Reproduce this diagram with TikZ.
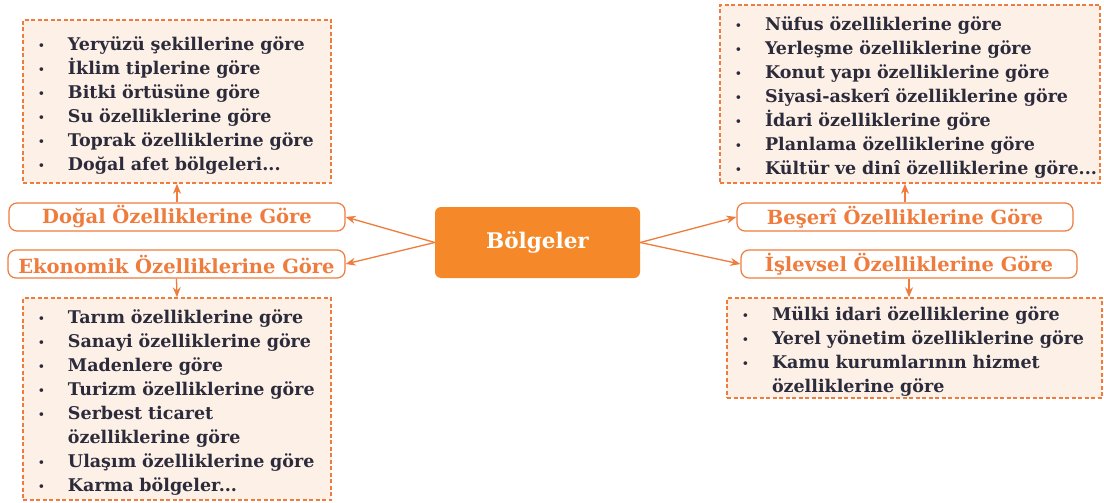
\documentclass[tikz,border=0pt]{standalone}
\usepackage{fontspec}
\setmainfont{DejaVu Serif}
\usetikzlibrary{arrows.meta}
\definecolor{ora}{HTML}{F5892A}
\definecolor{oline}{HTML}{EF7C3C}
\definecolor{peach}{HTML}{FDF0E6}
\definecolor{ink}{HTML}{2B2B3B}
\newcommand{\li}[1]{\mbox{\makebox[39pt][l]{\hspace{9pt}\raisebox{1pt}{\scalebox{0.6}{\textbullet}}}#1}}
\newcommand{\nb}[1]{\mbox{\hspace*{39pt}#1}}
\newcommand{\tp}{\rule{0pt}{21pt}}
\begin{document}
\begin{tikzpicture}[x=1pt,y=-1pt,
  listbox/.style={draw=oline, dash pattern=on 4pt off 2.5pt, line width=1.6pt, fill=peach, inner xsep=6pt, inner ysep=0pt,
    align=left, text=ink, font=\bfseries\fontsize{17.5}{24}\selectfont},
  labelbox/.style={draw=oline, line width=1.2pt, rounded corners=8pt, fill=white, text=oline,
    font=\bfseries\fontsize{19.5}{20}\selectfont, inner sep=0pt},
  conn/.style={oline, line width=1.3pt, -{Stealth[length=10pt,width=8pt]}}]
\useasboundingbox (0,0) rectangle (1104,503);
\fill[white] (0,0) rectangle (1104,503);
\node[listbox, minimum width=308pt, minimum height=163pt, text width=296pt] (topL) at (177,101.5)
{\tp\li{Yeryüzü şekillerine göre}\\ \li{İklim tiplerine göre}\\ \li{Bitki örtüsüne göre}\\ \li{Su özelliklerine göre}\\ \li{Toprak özelliklerine göre}\\ \li{Doğal afet bölgeleri...}};
\node[listbox, minimum width=308pt, minimum height=202pt, text width=296pt] (botL) at (177,399)
{\tp\li{Tarım özelliklerine göre}\\ \li{Sanayi özelliklerine göre}\\ \li{Madenlere göre}\\ \li{Turizm özelliklerine göre}\\ \li{Serbest ticaret}\\ \nb{özelliklerine göre}\\ \li{Ulaşım özelliklerine göre}\\ \li{Karma bölgeler...}};
\node[listbox, minimum width=380pt, minimum height=178pt, text width=368pt] (topR) at (910,94)
{\tp\li{Nüfus özelliklerine göre}\\ \li{Yerleşme özelliklerine göre}\\ \li{Konut yapı özelliklerine göre}\\ \li{Siyasi-askerî özelliklerine göre}\\ \li{İdari özelliklerine göre}\\ \li{Planlama özelliklerine göre}\\ \li{Kültür ve dinî özelliklerine göre...}};
\node[listbox, minimum width=375pt, minimum height=100pt, text width=363pt] (botR) at (914.5,348)
{\tp\li{Mülki idari özelliklerine göre}\\ \li{Yerel yönetim özelliklerine göre}\\ \li{Kamu kurumlarının hizmet}\\ \nb{özelliklerine göre}};
\node[labelbox, minimum width=336pt, minimum height=28pt] (dogal) at (177,217) {Doğal Özelliklerine Göre};
\node[labelbox, minimum width=337pt, minimum height=28pt] (eko) at (176.5,264) {Ekonomik Özelliklerine Göre};
\node[labelbox, minimum width=336pt, minimum height=28pt] (beseri) at (905,217) {Beşerî Özelliklerine Göre};
\node[labelbox, minimum width=336pt, minimum height=28pt] (islev) at (909,264) {İşlevsel Özelliklerine Göre};
\node[fill=ora, rounded corners=6pt, minimum width=205pt, minimum height=71pt, text=white,
  font=\bfseries\fontsize{21.5}{24}\selectfont] (bolg) at (537.5,242.5) {Bölgeler};
\draw[conn] (bolg.west) -- (dogal.east);
\draw[conn] (bolg.west) -- (eko.east);
\draw[conn] (bolg.east) -- (beseri.west);
\draw[conn] (bolg.east) -- (islev.west);
\draw[conn] (dogal.north) -- (topL.south);
\draw[conn] (eko.south) -- (botL.north);
\draw[conn] (beseri.north) -- (beseri.north |- topR.south);
\draw[conn] (islev.south) -- (islev.south |- botR.north);
\end{tikzpicture}
\end{document}
